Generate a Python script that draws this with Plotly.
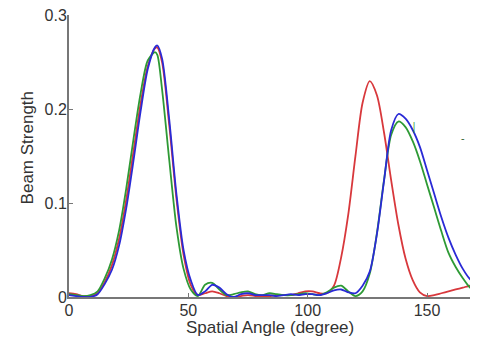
import plotly.graph_objects as go

angle = [0, 3, 6, 9, 12, 15, 18, 21, 24, 27, 30, 33, 36, 37, 39, 42, 45, 48, 51, 54, 57, 60, 63, 66, 69,
         72, 75, 78, 81, 84, 87, 90, 93, 96, 99, 102, 105, 108, 111, 114, 117, 120, 123, 126, 129, 132,
         135, 138, 141, 144, 147, 150, 153, 156, 159, 162, 165, 168, 170]

red = [0.004, 0.003, 0.001, 0.001, 0.004, 0.016, 0.034, 0.062, 0.104, 0.155, 0.206, 0.246, 0.265, 0.266,
       0.250, 0.183, 0.105, 0.045, 0.013, 0.002, 0.004, 0.006, 0.004, 0.001, 0.000,
       0.001, 0.002, 0.001, 0.000, 0.001, 0.002, 0.002, 0.002, 0.004, 0.006, 0.006, 0.004, 0.004, 0.012,
       0.042, 0.088, 0.150, 0.207, 0.230, 0.215, 0.175,
       0.124, 0.077, 0.041, 0.018, 0.005, 0.001, 0.002, 0.004, 0.006, 0.008, 0.010, 0.012, 0.012]

green = [0.003, 0.002, 0.001, 0.002, 0.006, 0.020, 0.040, 0.071, 0.116, 0.168, 0.217, 0.252, 0.261, 0.258,
         0.221, 0.146, 0.075, 0.030, 0.008, 0.001, 0.013, 0.015, 0.008, 0.002, 0.003,
         0.005, 0.006, 0.003, 0.002, 0.004, 0.003, 0.002, 0.002, 0.003, 0.004, 0.003, 0.002, 0.005, 0.010,
         0.012, 0.006, 0.001, 0.006, 0.025, 0.068, 0.125,
         0.173, 0.187, 0.181, 0.166, 0.145, 0.120, 0.095, 0.070, 0.047, 0.032, 0.020, 0.010, 0.007]

blue = [0.002, 0.001, 0.000, 0.000, 0.003, 0.014, 0.029, 0.055, 0.095, 0.145, 0.198, 0.243, 0.266, 0.268,
        0.254, 0.189, 0.110, 0.050, 0.018, 0.002, 0.006, 0.013, 0.010, 0.003, 0.000,
        0.003, 0.004, 0.002, 0.002, 0.002, 0.001, 0.002, 0.003, 0.002, 0.003, 0.003, 0.002, 0.004, 0.007,
        0.008, 0.005, 0.004, 0.012, 0.027, 0.067, 0.124,
        0.178, 0.195, 0.190, 0.178, 0.160, 0.135, 0.110, 0.085, 0.063, 0.045, 0.030, 0.019, 0.015]

x_ticks = [0, 50, 100, 150]
y_ticks = [0, 0.1, 0.2, 0.3]
y_tick_text = ["0", "0.1", "0.2", "0.3"]
x_title = "Spatial Angle (degree)"
y_title = "Beam Strength"

fig = go.Figure()
for name, vals, col in [("red", red, "#d8383c"), ("green", green, "#2e9a35"), ("blue", blue, "#2a2ad6")]:
    fig.add_trace(go.Scatter(x=angle, y=vals, mode="lines", name=name,
                             line=dict(color=col, width=1.8, shape="spline", smoothing=0.8)))

fam = "Liberation Sans, Arial, sans-serif"
tickfont = dict(family=fam, size=16, color="#333333")
axis_common = dict(showgrid=False, zeroline=False, showline=True, linecolor="#777777", linewidth=2,
                   ticks="inside", ticklen=4, tickcolor="#777777", tickfont=tickfont, automargin=False,
                   ticklabeloverflow="allow")
fig.update_layout(
    width=470, height=330,
    margin=dict(l=61, r=8, t=7, b=41),
    paper_bgcolor="white", plot_bgcolor="white",
    showlegend=False,
    xaxis=dict(range=[0, 168], tickvals=x_ticks, ticktext=[str(v) for v in x_ticks],
               ticklabelstandoff=-2, **axis_common),
    yaxis=dict(range=[0, 0.3005], tickvals=y_ticks, ticktext=y_tick_text,
               ticklabelstandoff=-3, **axis_common),
)
fig.add_annotation(xref="paper", yref="paper", x=0.5, y=0, yanchor="middle", yshift=-30,
                   text=x_title, showarrow=False, font=dict(family=fam, size=17, color="#333333"))
fig.add_annotation(xref="paper", yref="paper", x=0, y=0.527, xanchor="center", xshift=-42,
                   text=y_title, textangle=-90, showarrow=False,
                   font=dict(family=fam, size=17, color="#333333"))
fig.add_annotation(x=144.5, y=0.183, text="|", showarrow=False, font=dict(color="#2e9a35", size=11))
fig.add_annotation(x=165, y=0.170, text="-", showarrow=False, font=dict(color="#225522", size=11))
fig.write_html("out.html")
